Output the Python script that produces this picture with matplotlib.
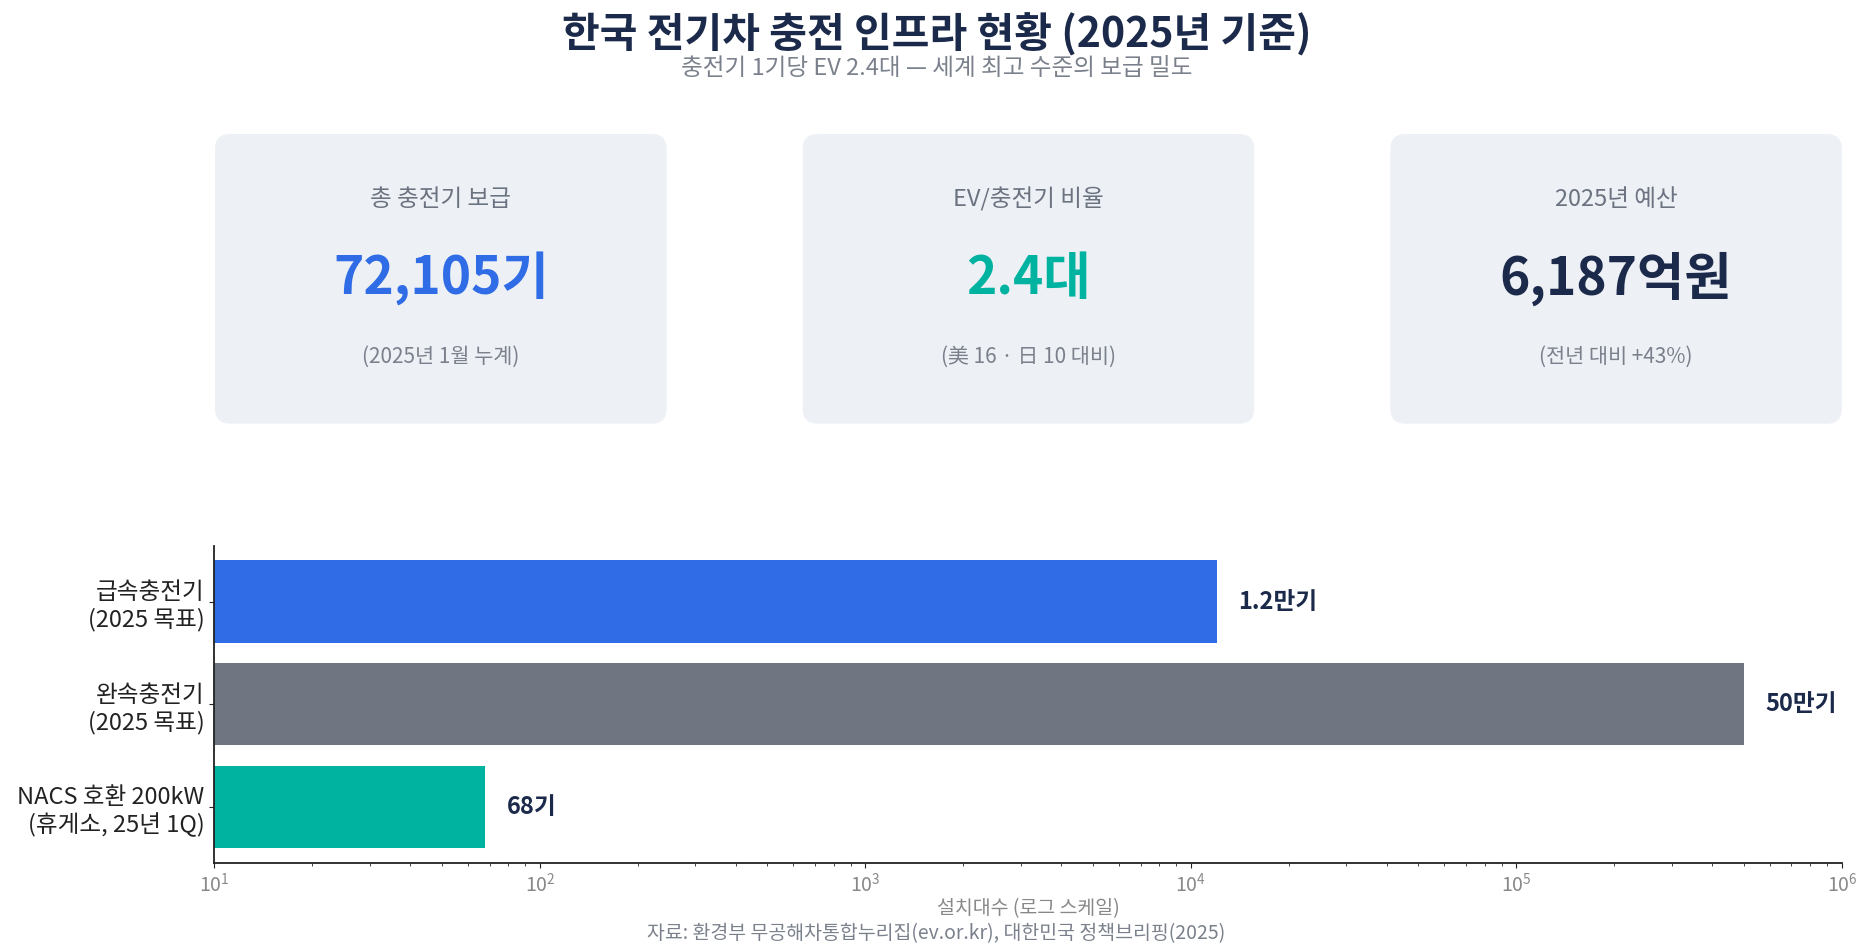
import matplotlib
matplotlib.use("Agg")
import matplotlib.pyplot as plt
from matplotlib.patches import FancyBboxPatch

plt.rcParams['font.family'] = ['Noto Sans CJK KR', 'DejaVu Sans']

# --- data ---
title = "한국 전기차 충전 인프라 현황 (2025년 기준)"
subtitle = "충전기 1기당 EV 2.4대 — 세계 최고 수준의 보급 밀도"

card_labels = ["총 충전기 보급", "EV/충전기 비율", "2025년 예산"]
card_values = ["72,105기", "2.4대", "6,187억원"]
card_notes = ["(2025년 1월 누계)", "(美 16 · 日 10 대비)", "(전년 대비 +43%)"]
card_colors = ["#2f6ce5", "#00b3a0", "#1b2a4a"]

bar_labels = ["급속충전기\n(2025 목표)", "완속충전기\n(2025 목표)", "NACS 호환 200kW\n(휴게소, 25년 1Q)"]
bar_values = [12000, 500000, 68]
bar_texts = ["1.2만기", "50만기", "68기"]
bar_colors = ["#2f6ce5", "#6f7682", "#00b3a0"]

source = "자료: 환경부 무공해차통합누리집(ev.or.kr), 대한민국 정책브리핑(2025)"

NAVY = "#1b2a4a"
GRAY = "#7b818c"

fig = plt.figure(figsize=(18.73, 9.44), dpi=100)

fig.text(0.5, 0.963, title, ha="center", va="center", fontsize=29.5,
         fontweight="bold", color=NAVY)
fig.text(0.5, 0.927, subtitle, ha="center", va="center", fontsize=17, color=GRAY)

# KPI cards
left, right = 0.1148, 0.9834
card_w = 0.2411
gap = (right - left - 3 * card_w) / 2
card_y0, card_y1 = 0.5512, 0.858
for i, (lab, val, note, col) in enumerate(zip(card_labels, card_values, card_notes, card_colors)):
    x = left + i * (card_w + gap)
    box = FancyBboxPatch((x, card_y0), card_w, card_y1 - card_y0,
                         boxstyle="round,pad=0,rounding_size=0.008",
                         transform=fig.transFigure, facecolor="#edf0f5",
                         edgecolor="none", mutation_aspect=1.98)
    fig.add_artist(box)
    cx = x + card_w / 2
    fig.text(cx, 0.789, lab, ha="center", va="center", fontsize=17, color="#6b7280")
    fig.text(cx, 0.705, val, ha="center", va="center", fontsize=37,
             fontweight="bold", color=col)
    fig.text(cx, 0.622, note, ha="center", va="center", fontsize=15, color="#7b818c")

# bar chart
ax = fig.add_axes([0.1145, 0.0861, 0.8689, 0.3355])
y = list(range(len(bar_values)))
ax.barh(y, bar_values, height=0.8, color=bar_colors)
ax.set_xscale("log")
ax.set_xlim(10, 1e6)
ax.set_yticks(y)
ax.set_yticklabels(bar_labels, fontsize=17, color="#222222")
ax.invert_yaxis()
for yi, v, t in zip(y, bar_values, bar_texts):
    ax.text(v * 1.16, yi, t, ha="left", va="center", fontsize=17,
            fontweight="bold", color=NAVY)

for s in ["top", "right"]:
    ax.spines[s].set_visible(False)
for s in ["left", "bottom"]:
    ax.spines[s].set_color("#222222")
    ax.spines[s].set_linewidth(1.3)
ax.tick_params(axis="x", which="both", colors="#222222", labelcolor="#888888",
               labelsize=14)
ax.tick_params(axis="y", colors="#222222")
ax.set_xlabel("설치대수 (로그 스케일)", fontsize=14, color="#888888", labelpad=1)

fig.text(0.5, 0.011, source, ha="center", va="center", fontsize=14, color=GRAY)

fig.savefig("out.png", dpi=100)
